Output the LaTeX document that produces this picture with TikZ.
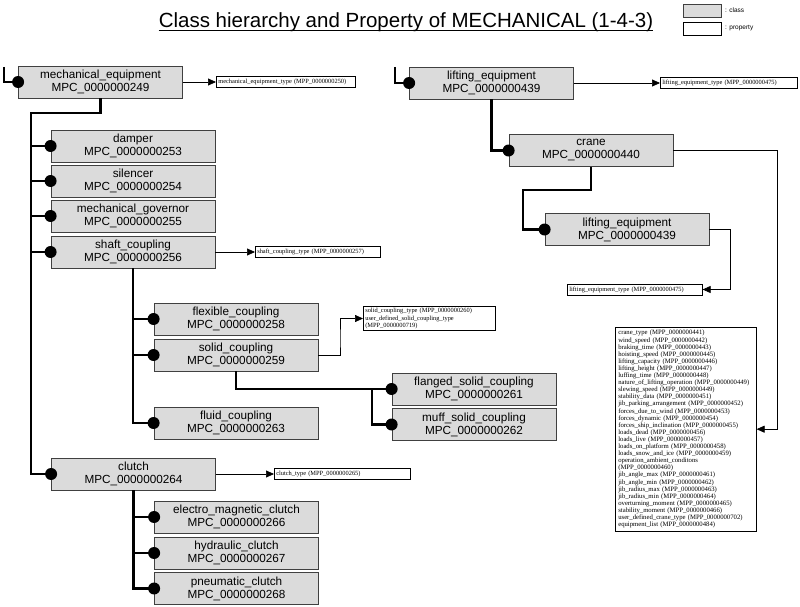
\documentclass[tikz,border=0pt]{standalone}
\usepackage{fontspec}
\setmainfont{Liberation Sans}
\newfontfamily\propserif{Liberation Serif}
\usetikzlibrary{arrows.meta}
\tikzset{
  classbox/.style={rectangle,draw=black!75,fill=black!14,line width=0.8pt,minimum width=164pt,minimum height=32pt,inner sep=1pt,align=center,font=\fontsize{11.75}{13}\selectfont},
  propbox/.style={rectangle,draw=black,fill=white,line width=0.6pt,inner sep=2pt,minimum height=11pt,anchor=west,align=left,font=\propserif\fontsize{6.4}{7.3}\selectfont},
  tree/.style={line width=2.4pt},
  propline/.style={line width=0.7pt,-{Triangle[length=8pt,width=7pt]}}
}

\begin{document}
\begin{tikzpicture}[x=1pt,y=-1pt]
\useasboundingbox (0,0) rectangle (800,607);
%title and legend
\path (406,28) node(title)[anchor=base,inner sep=0pt,font=\fontsize{20.5}{24}\selectfont]{Class hierarchy and Property of MECHANICAL (1-4-3)}
(683,4) node(legclass)[classbox,anchor=north west,minimum width=38pt,minimum height=13pt]{}
(683,22) node(legprop)[propbox,anchor=north west,minimum width=38pt,minimum height=13pt]{}
(724,10.5) node(legclasst)[anchor=west,inner sep=1pt,font=\fontsize{6.5}{8}\selectfont]{: class}
(724,28.5) node(legpropt)[anchor=west,inner sep=1pt,font=\fontsize{6.5}{8}\selectfont]{: property};
\draw[line width=1pt]([yshift=-3pt]title.base west)--([yshift=-3pt]title.base east);
%classes
\path (100.5,82) node(me)[classbox]{mechanical\_equipment\\ MPC\_0000000249}
(133,146) node(damper)[classbox]{damper\\ MPC\_0000000253}
(133,181) node(silencer)[classbox]{silencer\\ MPC\_0000000254}
(133,216) node(governor)[classbox]{mechanical\_governor\\ MPC\_0000000255}
(133,252) node(shaft)[classbox]{shaft\_coupling\\ MPC\_0000000256}
(236,319) node(flexible)[classbox]{flexible\_coupling\\ MPC\_0000000258}
(236,355) node(solid)[classbox]{solid\_coupling\\ MPC\_0000000259}
(236,423) node(fluid)[classbox]{fluid\_coupling\\ MPC\_0000000263}
(474,389) node(flanged)[classbox]{flanged\_solid\_coupling\\ MPC\_0000000261}
(474,424.5) node(muff)[classbox]{muff\_solid\_coupling\\ MPC\_0000000262}
(133.5,474) node(clutch)[classbox]{clutch\\ MPC\_0000000264}
(236.5,517) node(electro)[classbox]{electro\_magnetic\_clutch\\ MPC\_0000000266}
(236.5,553) node(hydraulic)[classbox]{hydraulic\_clutch\\ MPC\_0000000267}
(236.5,588.5) node(pneumatic)[classbox]{pneumatic\_clutch\\ MPC\_0000000268}
(491.5,83) node(lift)[classbox]{lifting\_equipment\\ MPC\_0000000439}
(591,150.5) node(crane)[classbox]{crane\\ MPC\_0000000440}
(627,229.5) node(lifttwo)[classbox]{lifting\_equipment\\ MPC\_0000000439};
%properties
\path (216,82) node(mep)[propbox,text width=135pt]{mechanical\_equipment\_type (MPP\_0000000250)}
(255,252) node(shaftp)[propbox,text width=121pt]{shaft\_coupling\_type (MPP\_0000000257)}
(363,318.5) node(solidp)[propbox,text width=128pt]{solid\_coupling\_type (MPP\_0000000260)\\ user\_defined\_solid\_coupling\_type\\ (MPP\_0000000719)}
(274,474) node(clutchp)[propbox,text width=132pt]{clutch\_type (MPP\_0000000265)}
(660,83) node(liftp)[propbox,text width=133pt]{lifting\_equipment\_type (MPP\_0000000475)}
(567,289.5) node(lifttwop)[propbox,text width=131pt]{lifting\_equipment\_type (MPP\_0000000475)}
(615,327) node(cranep)[propbox,anchor=north west,inner sep=3pt,text width=135pt,font=\propserif\fontsize{6.7}{7.1}\selectfont]{crane\_type (MPP\_0000000441)\\
wind\_speed (MPP\_0000000442)\\ braking\_time (MPP\_0000000443)\\ hoisting\_speed (MPP\_0000000445)\\
lifting\_capacity (MPP\_0000000446)\\ lifting\_height (MPP\_0000000447)\\ luffing\_time (MPP\_0000000448)\\
nature\_of\_lifting\_operation (MPP\_0000000449)\\ slewing\_speed (MPP\_0000000449)\\
stability\_data (MPP\_0000000451)\\ jib\_parking\_arrangement (MPP\_0000000452)\\
forces\_due\_to\_wind (MPP\_0000000453)\\ forces\_dynamic (MPP\_0000000454)\\
forces\_ship\_inclination (MPP\_0000000455)\\ loads\_dead (MPP\_0000000456)\\ loads\_live (MPP\_0000000457)\\
loads\_on\_platform (MPP\_0000000458)\\ loads\_snow\_and\_ice (MPP\_0000000459)\\
operation\_ambient\_conditons\\ (MPP\_0000000460)\\ jib\_angle\_max (MPP\_0000000461)\\
jib\_angle\_min (MPP\_0000000462)\\ jib\_radius\_max (MPP\_0000000463)\\ jib\_radius\_min (MPP\_0000000464)\\
overturning\_moment (MPP\_0000000465)\\ stability\_moment (MPP\_0000000466)\\
user\_defined\_crane\_type (MPP\_0000000702)\\ equipment\_list (MPP\_0000000484)};
%bends
\coordinate (meroot) at (4,67);
\coordinate (metrunk) at (31,113);
\coordinate (solidsplit) at (372,389);
\coordinate (liftroot) at (395,67);
\coordinate (cranebend) at (523,190);
\coordinate (solidturn) at (340,340);
\coordinate (craneturn) at (777,300);
\coordinate (lifttwoturn) at (730,260);
%hierarchy
\draw[tree](meroot)|-(me.west);
\draw[tree](me.south)|-(metrunk)|-(clutch.west);
\draw[tree](metrunk)|-(damper.west);
\draw[tree](metrunk)|-(silencer.west);
\draw[tree](metrunk)|-(governor.west);
\draw[tree](metrunk)|-(shaft.west);
\draw[tree](shaft.south)|-(fluid.west);
\draw[tree](shaft.south)|-(flexible.west);
\draw[tree](shaft.south)|-(solid.west);
\draw[tree](solid.south)|-(flanged.west);
\draw[tree](solidsplit)|-(muff.west);
\draw[tree](clutch.south)|-(pneumatic.west);
\draw[tree](clutch.south)|-(electro.west);
\draw[tree](clutch.south)|-(hydraulic.west);
\draw[tree](liftroot)|-(lift.west);
\draw[tree](lift.south)|-(crane.west);
\draw[tree](crane.south)|-(cranebend)|-(lifttwo.west);
\fill (me.west) circle (6pt) (damper.west) circle (6pt) (silencer.west) circle (6pt)
(governor.west) circle (6pt) (shaft.west) circle (6pt) (flexible.west) circle (6pt)
(solid.west) circle (6pt) (fluid.west) circle (6pt) (flanged.west) circle (6pt)
(muff.west) circle (6pt) (clutch.west) circle (6pt) (electro.west) circle (6pt)
(hydraulic.west) circle (6pt) (pneumatic.west) circle (6pt) (lift.west) circle (6pt)
(crane.west) circle (6pt) (lifttwo.west) circle (6pt);
%property links
\draw[propline](me.east)--(mep.west);
\draw[propline](shaft.east)--(shaftp.west);
\draw[propline](solid.east)-|(solidturn)|-(solidp.west);
\draw[propline](clutch.east)--(clutchp.west);
\draw[propline](lift.east)--(liftp.west);
\draw[propline](crane.east)-|(craneturn)|-(cranep.east);
\draw[propline](lifttwo.east)-|(lifttwoturn)|-(lifttwop.east);
\end{tikzpicture}
\end{document}
